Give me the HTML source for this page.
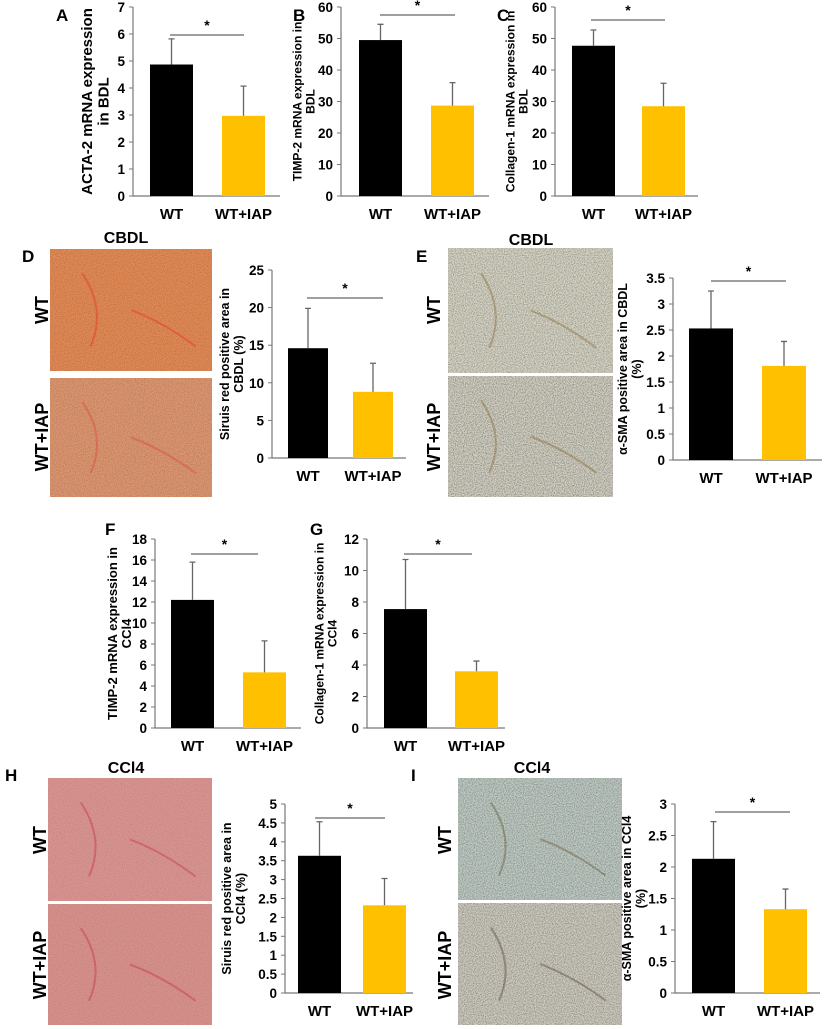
<!DOCTYPE html>
<html><head><meta charset="utf-8"><style>
body{margin:0;background:#fff;}
svg{display:block;font-family:"Liberation Sans",Arial,sans-serif;}
</style></head><body>
<svg id="fig" width="825" height="1029" viewBox="0 0 825 1029">
<defs>
<filter id="grain" x="0" y="0" width="100%" height="100%"><feTurbulence type="fractalNoise" baseFrequency="0.9" numOctaves="2" seed="3"/><feColorMatrix type="matrix" values="0 0 0 0 0  0 0 0 0 0  0 0 0 0 0  0 0 0 -1.6 1.0"/></filter>
</defs>
<g id="photos"></g>
<g id="charts"></g>
</svg>
<script>
const categories = ["WT", "WT+IAP"];
const valsA = [4.87, 2.97], errA = [0.95, 1.1], ticksA = [0,1,2,3,4,5,6,7];
const valsB = [49.5, 28.7], errB = [5.0, 7.3], ticksB = [0,10,20,30,40,50,60];
const valsC = [47.7, 28.5], errC = [5.0, 7.3], ticksC = [0,10,20,30,40,50,60];
const valsD = [14.6, 8.8], errD = [5.3, 3.8], ticksD = [0,5,10,15,20,25];
const valsE = [2.53, 1.81], errE = [0.72, 0.47], ticksE = [0,0.5,1,1.5,2,2.5,3,3.5];
const valsF = [12.2, 5.3], errF = [3.6, 3.0], ticksF = [0,2,4,6,8,10,12,14,16,18];
const valsG = [7.55, 3.6], errG = [3.15, 0.65], ticksG = [0,2,4,6,8,10,12];
const valsH = [3.63, 2.32], errH = [0.9, 0.71], ticksH = [0,0.5,1,1.5,2,2.5,3,3.5,4,4.5,5];
const valsI = [2.13, 1.33], errI = [0.59, 0.32], ticksI = [0,0.5,1,1.5,2,2.5,3];

const NS = "http://www.w3.org/2000/svg";
function el(tag, attrs, parent, text){
  const e = document.createElementNS(NS, tag);
  for (const k in attrs) e.setAttribute(k, attrs[k]);
  if (text !== undefined) e.textContent = text;
  parent.appendChild(e);
  return e;
}
const charts = document.getElementById('charts');
const photos = document.getElementById('photos');

function chart(id, letter, letterPos, vals, errs, ticks, ax, ylab, fs){
  const g = el('g', {}, charts);
  
  
  const max = ticks[ticks.length-1];
  const y = v => ax.y0 - (v / max) * (ax.y0 - ax.yTop);
  if (letter){
    const t = el('text', {x:letterPos[0], y:letterPos[1], 'font-size':17, 'font-weight':'bold'}, g, letter);
    
    
  }
  const a = el('path', {d:`M${ax.x} ${ax.yTop}V${ax.y0}H${ax.xEnd}`, stroke:'#777', 'stroke-width':1.2, fill:'none'}, g);
  
  
  ticks.forEach(tv => {
    el('line', {x1:ax.x-4, x2:ax.x, y1:y(tv), y2:y(tv), stroke:'#777'}, g);
    const tl = el('text', {x:ax.x-8, y:y(tv)+5, 'font-size':13.5, 'font-weight':'bold', 'text-anchor':'end'}, g, String(tv));
    
    
  });
  const colors = ['#000', '#ffc000'];
  vals.forEach((v, i) => {
    const bx = ax.bars[i];
    const r = el('rect', {x:bx, y:y(v), width:ax.bw, height:ax.y0 - y(v), fill:colors[i]}, g);
    
    
    const cx = bx + ax.bw/2;
    const e = el('path', {d:`M${cx} ${y(v)}V${y(v+errs[i])}M${cx-3} ${y(v+errs[i])}H${cx+3}`, stroke:'#666', 'stroke-width':1.3}, g);
    
    
    const xl = el('text', {x:cx, y:ax.y0+23, 'font-size':15, 'font-weight':'bold', 'text-anchor':'middle'}, g, categories[i]);
    
    
  });
  const s = el('line', {x1:ax.sig[0], x2:ax.sig[1], y1:ax.sig[2], y2:ax.sig[2], stroke:'#666', 'stroke-width':1.3}, g);
  
  
  const st = el('text', {x:(ax.sig[0]+ax.sig[1])/2, y:ax.sig[2]-5, 'font-size':14, 'font-weight':'bold', 'text-anchor':'middle'}, g, '*');
  
  
  const cy = (ax.yTop + ax.y0)/2;
  const yl = el('text', {transform:`translate(${ax.ylx},${cy}) rotate(-90)`, 'font-size':fs, 'font-weight':'bold', 'text-anchor':'middle'}, g);
  
  
  ylab.forEach((ln, k) => el('tspan', {x:0, y:(k - (ylab.length-1)/2) * fs * 1.1}, yl, ln));
}

chart('a','A',[56,21],valsA,errA,ticksA,{x:133,yTop:7,y0:196,xEnd:280,bars:[150,222],bw:43,sig:[170,244,35],ylx:100},['ACTA-2 mRNA expression','in BDL'],15);
chart('b','B',[293,21],valsB,errB,ticksB,{x:341,yTop:7,y0:196,xEnd:489,bars:[359,431],bw:43,sig:[380,455,15],ylx:308},['TIMP-2 mRNA expression in','BDL'],12);
chart('c','C',[497,21],valsC,errC,ticksC,{x:555,yTop:7,y0:196,xEnd:698,bars:[572,642],bw:43,sig:[591,665,20],ylx:521},['Collagen-1 mRNA expression in','BDL'],12);
chart('d','D',[22,262],valsD,errD,ticksD,{x:272,yTop:270,y0:458,xEnd:406,bars:[288,353],bw:40,sig:[307,383,298],ylx:236},['Siruis red positive area in','CBDL  (%)'],12.5);
chart('e','E',[416,262],valsE,errE,ticksE,{x:673,yTop:278,y0:460,xEnd:822,bars:[689,762],bw:44,sig:[711,786,281],ylx:634},['α-SMA positive area in CBDL','(%)'],12.5);
chart('f','F',[105,535],valsF,errF,ticksF,{x:155,yTop:539,y0:728,xEnd:301,bars:[171,243],bw:43,sig:[191,258,554],ylx:124},['TIMP-2 mRNA expression in','CCl4'],13);
chart('g','G',[310,535],valsG,errG,ticksG,{x:367,yTop:539,y0:728,xEnd:505,bars:[384,455],bw:43,sig:[404,472,554],ylx:330},['Collagen-1 mRNA expression in','CCl4'],12);
chart('h','H',[5,781],valsH,errH,ticksH,{x:285,yTop:804,y0:993,xEnd:413,bars:[298,363],bw:43,sig:[315,385,818],ylx:238},['Siruis red positive area in','CCl4 (%)'],12.5);
chart('i','I',[411,781],valsI,errI,ticksI,{x:675,yTop:804,y0:993,xEnd:820,bars:[692,764],bw:43,sig:[715,790,812],ylx:638},['α-SMA positive area in CCl4','(%)'],12.5);

function photo(name, x, y, w, h, base, streak, grainOp){
  const g = el('g', {}, photos);
  
  
  el('rect', {x:x, y:y, width:w, height:h, fill:base}, g);
  el('rect', {x:x, y:y, width:w, height:h, filter:'url(#grain)', opacity:grainOp}, g);
  el('path', {d:`M${x+w*0.2} ${y+h*0.2} q${w*0.15} ${h*0.3} ${w*0.05} ${h*0.6} M${x+w*0.5} ${y+h*0.5} q${w*0.2} ${h*0.1} ${w*0.4} ${h*0.3}`, stroke:streak, 'stroke-width':2, fill:'none', opacity:0.45}, g);
}
function sideLabel(text, x, cy, name){
  const t = el('text', {transform:`translate(${x},${cy}) rotate(-90)`, 'font-size':18, 'font-weight':'bold', 'text-anchor':'middle'}, photos, text);
  
  
}
function title(text, x, y, name){
  const t = el('text', {x:x, y:y, 'font-size':16, 'font-weight':'bold', 'text-anchor':'middle'}, photos, text);
  
  
}
photo('photo-d-wt', 50, 249, 162, 122, '#e38a55', '#e8332b', 0.25);
photo('photo-d-iap', 50, 378, 162, 119, '#dd9670', '#e04a3a', 0.25);
title('CBDL', 126, 243, 'photo-title-d');
sideLabel('WT', 48, 310, 'row-label-wt'); sideLabel('WT+IAP', 48, 437, 'row-label-wt-iap');
photo('photo-e-wt', 448, 248, 165, 125, '#d6d4c4', '#8a6a3a', 0.45);
photo('photo-e-iap', 448, 376, 165, 121, '#d2d0c2', '#8a6a3a', 0.5);
title('CBDL', 531, 245, 'photo-title-e');
sideLabel('WT', 440, 310, 'row-label-wt'); sideLabel('WT+IAP', 440, 437, 'row-label-wt-iap');
photo('photo-h-wt', 48, 778, 164, 123, '#d99491', '#c8364a', 0.15);
photo('photo-h-iap', 48, 904, 164, 121, '#d8918c', '#c8364a', 0.15);
title('CCl4', 126, 773, 'photo-title-h');
sideLabel('WT', 46, 840, 'row-label-wt'); sideLabel('WT+IAP', 46, 965, 'row-label-wt-iap');
photo('photo-i-wt', 458, 778, 164, 122, '#c0cbc4', '#6b5a3a', 0.45);
photo('photo-i-iap', 458, 903, 164, 122, '#cdcabe', '#5a4a30', 0.45);
title('CCl4', 532, 773, 'photo-title-i');
sideLabel('WT', 451, 840, 'row-label-wt'); sideLabel('WT+IAP', 451, 965, 'row-label-wt-iap');
</script>
</body></html>
